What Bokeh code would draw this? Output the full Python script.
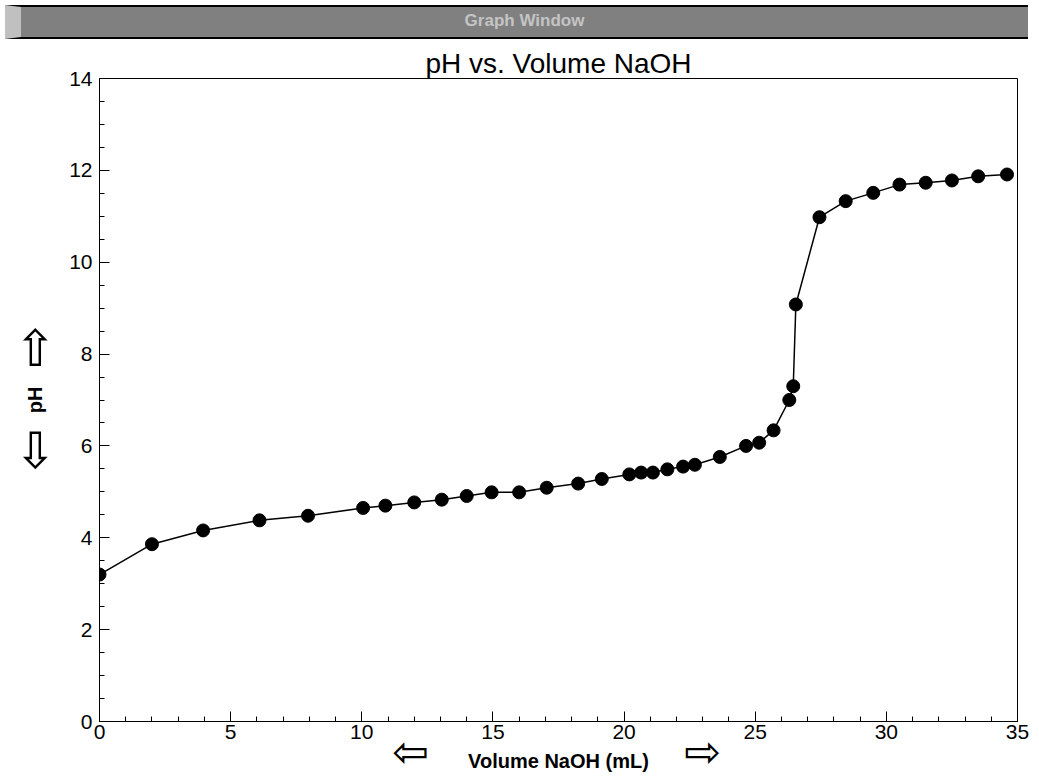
from bokeh.plotting import figure
from bokeh.models import (Div, SingleIntervalTicker, FixedTicker, Range1d, LinearAxis,
                          CustomJSTickFormatter)
from bokeh.layouts import column
from bokeh.embed import file_html
from bokeh.resources import INLINE

# Data
volume_ml = [0.0, 2.0, 3.95, 6.1, 7.95, 10.05, 10.9, 12.0, 13.05, 14.0, 14.95, 16.0, 17.05,
             18.25, 19.15, 20.2, 20.65, 21.1, 21.65, 22.25, 22.7, 23.65, 24.65, 25.15,
             25.7, 26.3, 26.45, 26.55, 27.45, 28.45, 29.5, 30.5, 31.5, 32.5, 33.5, 34.6]
ph = [3.2, 3.86, 4.16, 4.38, 4.48, 4.65, 4.7, 4.77, 4.83, 4.91, 4.99, 4.99, 5.09,
      5.18, 5.28, 5.38, 5.42, 5.42, 5.49, 5.55, 5.59, 5.76, 6.0, 6.07,
      6.34, 7.0, 7.3, 9.08, 10.98, 11.33, 11.51, 11.69, 11.73, 11.78, 11.87, 11.91]

title_text = "pH vs. Volume NaOH"
window_title = "Graph Window"
x_label = "Volume NaOH (mL)"
y_label = "pH"
x_arrow_pos = [11.86, 22.99]   # where the scroll arrows sit beside the x label
y_arrow_pos = [8.12, 5.88]     # where the scroll arrows sit beside the y label

bar = Div(text=window_title, width=1023, height=34,
          styles={"background-color": "#808080", "color": "#c4c4c4",
                  "font-family": "Liberation Sans", "font-weight": "bold",
                  "font-size": "17px", "text-align": "center", "line-height": "28px",
                  "border-top": "2px solid #000", "border-bottom": "2px solid #000",
                  "border-left": "16px solid #c0c0c0",
                  "box-sizing": "border-box", "width": "1023px", "height": "34px"})

p = figure(width=1030, height=734, output_backend="svg", toolbar_location=None,
           x_range=Range1d(0, 35), y_range=Range1d(0, 14),
           min_border_left=99, min_border_right=13, min_border_top=34, min_border_bottom=57)
p.title.text = title_text
p.title.align = "center"
p.title.text_font = "Liberation Sans"
p.title.text_font_size = "28px"
p.title.text_font_style = "normal"
p.title.text_color = "black"
p.title.standoff = 0
p.title.offset = 0

p.xgrid.visible = False
p.ygrid.visible = False
p.outline_line_color = "black"
p.outline_line_width = 1
p.background_fill_color = "white"
p.border_fill_color = "white"

p.xaxis.ticker = SingleIntervalTicker(interval=5, num_minor_ticks=5)
p.yaxis.ticker = SingleIntervalTicker(interval=2, num_minor_ticks=4)
for ax in (p.xaxis[0], p.yaxis[0]):
    ax.axis_line_color = "black"
    ax.major_tick_line_color = "black"
    ax.minor_tick_line_color = "black"
    ax.major_tick_in = 10
    ax.major_tick_out = 0
    ax.minor_tick_in = 5
    ax.minor_tick_out = 0
    ax.major_label_text_font = "Liberation Sans"
    ax.major_label_text_font_size = "21px"
    ax.major_label_text_color = "black"
p.xaxis.major_label_standoff = 3
p.yaxis.major_label_standoff = 7

p.line(volume_ml, ph, line_color="black", line_width=1.5)
p.scatter(volume_ml, ph, size=13, fill_color="black", line_color="black")

# Outer bare axes: outlined scroll arrows as tick labels, and the axis titles
# pulled back into the same row with a negative standoff.
label_style = dict(axis_label_text_font="Liberation Sans", axis_label_text_font_size="20px",
                   axis_label_text_font_style="bold", axis_label_text_color="black",
                   axis_line_color=None, major_tick_line_color=None,
                   minor_tick_line_color=None, major_label_text_font="DejaVu Sans",
                   major_label_text_color="black")
arrow_x_axis = LinearAxis(ticker=FixedTicker(ticks=x_arrow_pos),
                          formatter=CustomJSTickFormatter(code="return tick < 17 ? '\u21e6' : '\u21e8'"),
                          axis_label=x_label, major_label_standoff=-22, axis_label_standoff=-30,
                          major_label_text_font_size="44px", **label_style)
p.add_layout(arrow_x_axis, "below")
arrow_y_axis = LinearAxis(ticker=FixedTicker(ticks=y_arrow_pos),
                          formatter=CustomJSTickFormatter(code="return tick > 7 ? '\u21e7' : '\u21e9'"),
                          axis_label=y_label, major_label_standoff=4, axis_label_standoff=-34,
                          major_label_text_font_size="50px", **label_style)
p.add_layout(arrow_y_axis, "left")

layout = column(bar, p, spacing=0)
open("out.html", "w").write(file_html(layout, INLINE))
